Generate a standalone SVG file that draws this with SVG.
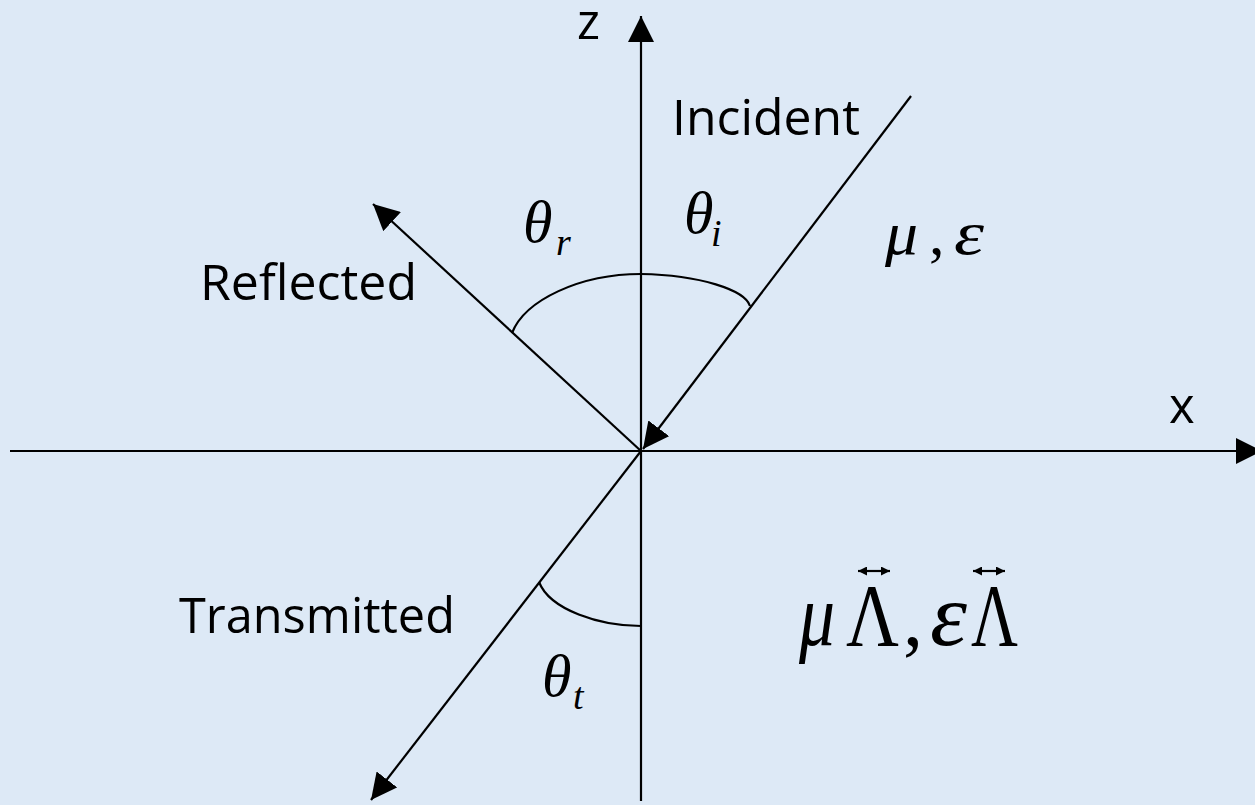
<svg xmlns="http://www.w3.org/2000/svg" width="1255" height="805" viewBox="0 0 1255 805">
<defs>
<style>
.ln{stroke:#000;stroke-width:2.2;fill:none}
.lbl{font-family:"Open Sans","Liberation Sans",sans-serif;font-size:49px;fill:#000}
.m{font-family:"Liberation Serif","Times New Roman",serif;font-style:italic;fill:#000}
.g{font-family:"Liberation Serif","Times New Roman",serif;fill:#000}
</style>
<marker id="ahB" viewBox="0 0 10 10" refX="10" refY="5" markerWidth="26" markerHeight="26" markerUnits="userSpaceOnUse" orient="auto"><path d="M0,0L10,5L0,10z" fill="#000"/></marker>
<marker id="ahS" viewBox="0 0 10 10" refX="10" refY="5" markerWidth="9" markerHeight="9" markerUnits="userSpaceOnUse" orient="auto-start-reverse"><path d="M0,0L10,5L0,10z" fill="#000"/></marker>
</defs>
<rect width="1255" height="805" fill="#dde9f6"/>
<g id="connectors">
<line id="z-axis" class="ln" x1="641" y1="801" x2="641" y2="16" marker-end="url(#ahB)"/>
<line id="x-axis" class="ln" x1="10" y1="451" x2="1262" y2="451" marker-end="url(#ahB)"/>
<line id="incident" class="ln" x1="911" y1="96" x2="643" y2="449" marker-end="url(#ahB)"/>
<line id="reflected" class="ln" x1="641" y1="451" x2="373" y2="204" marker-end="url(#ahB)"/>
<line id="transmitted" class="ln" x1="641" y1="451" x2="371" y2="800" marker-end="url(#ahB)"/>
<path id="arc-top" class="ln" d="M512,333 C525,300 580,274 641,274 C700,275 745,290 750,306"/>
<path id="arc-bottom" class="ln" d="M539,582 C550,610 600,626 641,626"/>
</g>
<g id="label-z"><text class="lbl" x="577" y="39" font-size="44">z</text></g>
<g id="label-x"><text class="lbl" x="1169" y="423" font-size="46">x</text></g>
<g id="label-incident"><text class="lbl" x="672" y="135" textLength="188" lengthAdjust="spacingAndGlyphs">Incident</text></g>
<g id="label-reflected"><text class="lbl" x="200" y="300" textLength="217" lengthAdjust="spacingAndGlyphs">Reflected</text></g>
<g id="label-transmitted"><text class="lbl" x="179" y="633" textLength="276" lengthAdjust="spacingAndGlyphs">Transmitted</text></g>
<g id="theta-r"><text class="m" x="523" y="242" font-size="60">θ</text><text class="m" x="556" y="255" font-size="38">r</text></g>
<g id="theta-i"><text class="m" x="684" y="233" font-size="60">θ</text><text class="m" x="711" y="246" font-size="38">i</text></g>
<g id="theta-t"><text class="m" x="542" y="696" font-size="60">θ</text><text class="m" x="573" y="709" font-size="38">t</text></g>
<g id="medium-1">
<text class="m" x="885" y="254" font-size="62" textLength="33" lengthAdjust="spacingAndGlyphs">μ</text>
<text class="g" x="929" y="254" font-size="62">,</text>
<text class="m" x="954" y="254" font-size="62" textLength="30" lengthAdjust="spacingAndGlyphs">ε</text>
</g>
<g id="medium-2">
<text class="m" x="799" y="645" font-size="88" textLength="36" lengthAdjust="spacingAndGlyphs">μ</text>
<text class="g" x="846" y="645" font-size="88" textLength="53" lengthAdjust="spacingAndGlyphs">Λ</text>
<text class="g" x="903" y="645" font-size="80">,</text>
<text class="m" x="930" y="645" font-size="88" textLength="37" lengthAdjust="spacingAndGlyphs">ε</text>
<text class="g" x="971" y="645" font-size="88" textLength="47" lengthAdjust="spacingAndGlyphs">Λ</text>
<line class="ln" x1="858" y1="571" x2="890" y2="571" stroke-width="1.6" marker-start="url(#ahS)" marker-end="url(#ahS)"/>
<line class="ln" x1="973" y1="571" x2="1005" y2="571" stroke-width="1.6" marker-start="url(#ahS)" marker-end="url(#ahS)"/>
</g>
</svg>
